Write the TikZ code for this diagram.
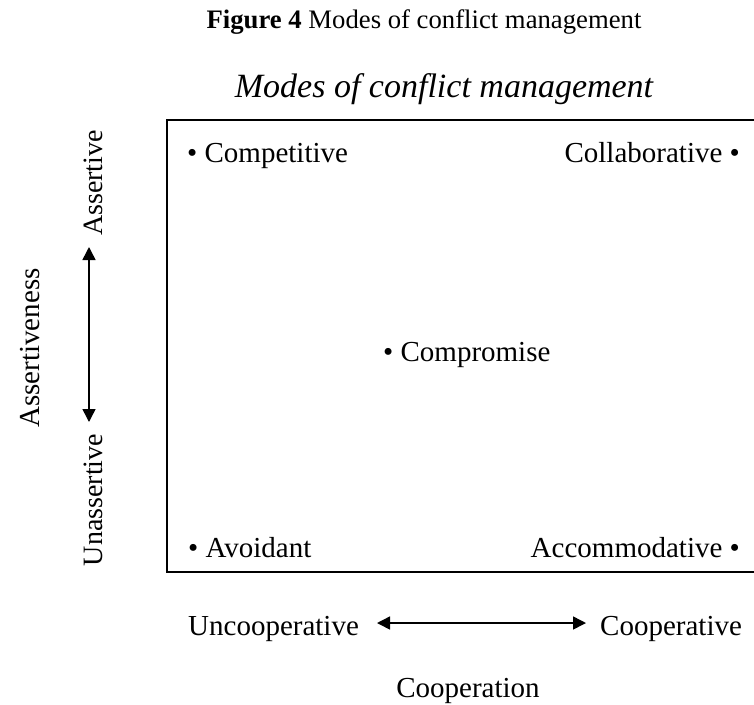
\documentclass[tikz,border=0pt]{standalone}
\usepackage{fontspec}
\setmainfont{Liberation Serif}
\usetikzlibrary{arrows.meta}
\begin{document}
\begin{tikzpicture}[x=1pt,y=-1pt,
  lbl/.style={inner sep=0pt,font=\fontsize{29}{32}\selectfont},
  side/.style={inner sep=0pt,rotate=90,font=\fontsize{28}{31}\selectfont},
  dbl/.style={line width=1.5pt,{Triangle[length=13pt,width=13pt]}-{Triangle[length=13pt,width=13pt]}}]
\useasboundingbox (0,0) rectangle (754,704);
\node[inner sep=0pt,anchor=base,font=\fontsize{26.7}{30}\selectfont] (cap) at (424,28) {\textbf{Figure 4} Modes of conflict management};
\node[inner sep=0pt,anchor=base,font=\fontsize{34}{37}\selectfont\itshape] (ttl) at (444,97) {Modes of conflict management};
\draw[line width=1.5pt] (754,120) coordinate (tr) -- (167,120) -- (167,572) -- (754,572) coordinate (br);
\node[lbl,anchor=base west] (comp) at (187,162) {• Competitive};
\node[lbl,anchor=base east] (coll) at (740,162) {Collaborative •};
\node[lbl,anchor=base west] (cpr) at (383,361) {• Compromise};
\node[lbl,anchor=base west] (avo) at (188,557) {• Avoidant};
\node[lbl,anchor=base east] (acc) at (740,557) {Accommodative •};
\node[lbl,anchor=base west] (unc) at (188,635) {Uncooperative};
\node[lbl,anchor=base west] (coo) at (600,635) {Cooperative};
\node[lbl,anchor=base] (cop) at (468,697) {Cooperation};
\coordinate (hl) at (377,623);
\coordinate (hr) at (586,623);
\draw[dbl] (hl) -- (hr);
\node[side] (as) at (93,183) {Assertive};
\node[side] (uas) at (93,500) {Unassertive};
\node[side,font=\fontsize{29}{32}\selectfont] (ass) at (30,348) {Assertiveness};
\coordinate (vt) at (89,247);
\coordinate (vb) at (89,422);
\draw[dbl] (vt) -- (vb);
\end{tikzpicture}
\end{document}
